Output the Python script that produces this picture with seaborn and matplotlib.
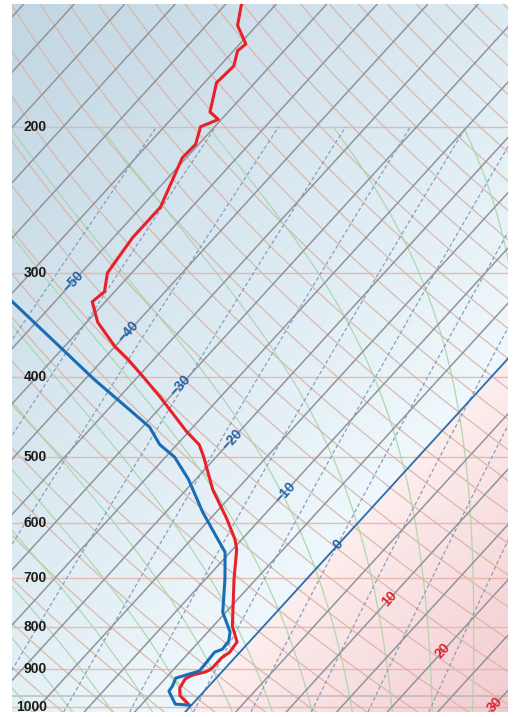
import numpy as np
import pandas as pd
import matplotlib
matplotlib.use("Agg")
import matplotlib.pyplot as plt
import matplotlib.transforms as mtransforms
import seaborn as sns

# --- sounding (hPa / degC) ---
temp_pres = [995, 969, 949, 925, 915, 908, 903, 895, 873, 859, 835, 799, 752, 701,
             646, 628, 594, 547, 499, 483, 466, 444, 423, 400, 381, 368, 344, 325,
             316, 300, 288, 272, 250, 218, 210, 200, 196, 192, 177, 169, 162, 159,
             151, 142, 138]
temp_c = [-0.2, -2.0, -2.7, -3.0, -2.6, -1.7, -1.4, -1.3, -1.3, -1.0, -1.2, -3.1, -5.0, -7.2,
          -9.6, -10.7, -13.3, -17.4, -21.3, -22.8, -25.2, -28.1, -31.0, -34.5, -37.6, -40.0, -43.9, -46.3,
          -46.0, -47.4, -47.7, -48.1, -48.1, -50.4, -50.3, -51.4, -50.3, -51.8, -53.8, -53.6, -54.6, -54.4,
          -56.9, -58.5, -59.0]

dewp_pres = [995, 992, 957, 944, 923, 905, 880, 859, 852, 833, 812, 769, 701, 651,
             583, 532, 500, 483, 460, 403, 325, 300]
dewp_c = [-0.2, -1.7, -3.5, -3.6, -4.0, -2.3, -2.4, -2.5, -2.0, -2.1, -2.8, -5.3, -8.1, -10.5,
          -16.3, -20.7, -24.1, -26.7, -29.3, -39.1, -54.2, -59.7]

pres_labels = [200, 300, 400, 500, 600, 700, 800, 900, 1000]
iso_label_t = [-50, -40, -30, -20, -10, 0, 10, 20, 30]
iso_label_p = [307, 353, 410, 476, 551, 637, 741, 856, 994]
mix_ratios = [0.1, 0.2, 0.4, 0.8, 1.5, 2.5, 4, 6, 9, 13, 19]
moist_start = list(range(-36, 40, 4))

SKEW = 32.6
P_BOT, P_TOP = 1014, 142.3
X_LEFT, X_RIGHT = -17.6, 31.5


def skew(t, p):
    return np.asarray(t, float) + SKEW * np.log(1000.0 / np.asarray(p, float))


def dtdp(t, p):
    tk = t + 273.15
    es = 6.112 * np.exp(17.67 * t / (t + 243.5))
    rs = 0.622 * es / (p - es)
    lv, rd, cp = 2.501e6, 287.04, 1005.7
    return (rd * tk + lv * rs) / (p * (cp + lv ** 2 * rs * 0.622 / (rd * tk ** 2)))


def moist(t0, p):
    t = np.empty((len(p), len(t0)))
    t[0] = t0
    for i in range(1, len(p)):
        dp = p[i] - p[i - 1]
        k1 = dtdp(t[i - 1], p[i - 1])
        k2 = dtdp(t[i - 1] + k1 * dp, p[i])
        t[i] = t[i - 1] + 0.5 * (k1 + k2) * dp
    return t


sns.set_style("white")
fig = plt.figure(figsize=(5.14, 7.17), dpi=100)
ax = fig.add_axes([12 / 514, 5 / 717, 496 / 514, 708 / 717])
ax.set_yscale("log")
ax.set_xlim(X_LEFT, X_RIGHT)
ax.set_ylim(P_BOT, P_TOP)

# background: blue below 0 degC, pink above
u = np.linspace(0, 1, 300)
v = np.linspace(0, 1, 420)
U, V = np.meshgrid(u, v)
X = X_LEFT + U * (X_RIGHT - X_LEFT)
L = np.log(1000 / P_BOT) + V * (np.log(1000 / P_TOP) - np.log(1000 / P_BOT))
T = X - SKEW * L
blue0, blue1 = np.array([239, 248, 252]) / 255, np.array([194, 214, 227]) / 255
pink0, pink1 = np.array([253, 238, 238]) / 255, np.array([243, 203, 207]) / 255
fb = np.clip(-T / 80, 0, 1)[..., None]
fp = np.clip(T / 32, 0, 1)[..., None]
img = np.where(T[..., None] < 0, blue0 + (blue1 - blue0) * fb, pink0 + (pink1 - pink0) * fp)
ax.imshow(img, extent=(0, 1, 0, 1), origin="lower", transform=ax.transAxes,
          aspect="auto", zorder=0, interpolation="bilinear")

# isobars
for p in pres_labels:
    ax.axhline(p, color="#e6b2a4", lw=1.0, alpha=0.85, zorder=1)
ax.axhline(970, color="#a3a5a8", lw=1.2, alpha=0.6, zorder=1)

pp = np.geomspace(P_BOT, P_TOP, 120)
# dry adiabats
for th in range(200, 485, 5):
    ax.plot(skew(th * (pp / 1000) ** 0.2857 - 273.15, pp), pp,
            color="#d9b3a3", lw=0.9, alpha=0.9, zorder=2)

# moist adiabats
pm = np.concatenate([np.linspace(P_BOT, 1000, 6)[:-1], np.linspace(1000, 200, 400)])
up = moist(np.array(moist_start, float), np.linspace(1000, 200, 400))
dn = moist(np.array(moist_start, float), np.linspace(1000, P_BOT, 6))
tm = np.vstack([dn[::-1][:-1], up])
for j in range(len(moist_start)):
    ax.plot(skew(tm[:, j], pm), pm, color="#a9d5a9", lw=0.9, alpha=0.9, zorder=2)

# mixing ratio lines
pw = np.geomspace(P_BOT, 200, 60)
for w in mix_ratios:
    e = w * pw / (622 + w)
    lg = np.log(e / 6.112)
    td = 243.5 * lg / (17.67 - lg)
    ax.plot(skew(td, pw), pw, color="#8c9cbc", lw=0.9, ls=(0, (3, 2)), zorder=2)

# isotherms
for t in range(-150, 45, 5):
    if t == 0:
        continue
    ax.plot(skew([t, t], [P_BOT, P_TOP]), [P_BOT, P_TOP], color="#8f959a", lw=1.1, zorder=3)
ax.plot(skew([0, 0], [P_BOT, P_TOP]), [P_BOT, P_TOP], color="#2b6cb0", lw=1.3, zorder=3)

# profiles
df = pd.concat([
    pd.DataFrame({"x": skew(temp_c, temp_pres), "p": temp_pres, "kind": "T"}),
    pd.DataFrame({"x": skew(dewp_c, dewp_pres), "p": dewp_pres, "kind": "Td"}),
])
sns.lineplot(data=df, x="x", y="p", hue="kind", units="kind", estimator=None, sort=False,
             palette={"T": "#e8202a", "Td": "#1a6db5"}, lw=2.2, legend=False, ax=ax, zorder=5)

# labels
trans = mtransforms.blended_transform_factory(ax.transAxes, ax.transData)
for p in pres_labels:
    ax.text(0.0706, p, str(p), transform=trans, ha="right", va="center",
            fontsize=10, fontweight="bold", family="Liberation Sans", color="#1a1a1a", zorder=6)
for t, p in zip(iso_label_t, iso_label_p):
    ax.text(skew(t, p), p, str(t).replace("-", "\u2212"), ha="center", va="center", rotation=47.7,
            rotation_mode="anchor", fontsize=10, fontweight="bold", family="Liberation Sans",
            color="#2462a8" if t <= 0 else "#e3202b", zorder=6)

ax.set_xticks([])
ax.set_yticks([])
ax.minorticks_off()
ax.set_xlabel("")
ax.set_ylabel("")
for s in ax.spines.values():
    s.set_visible(False)

fig.savefig("out.png", dpi=100)
